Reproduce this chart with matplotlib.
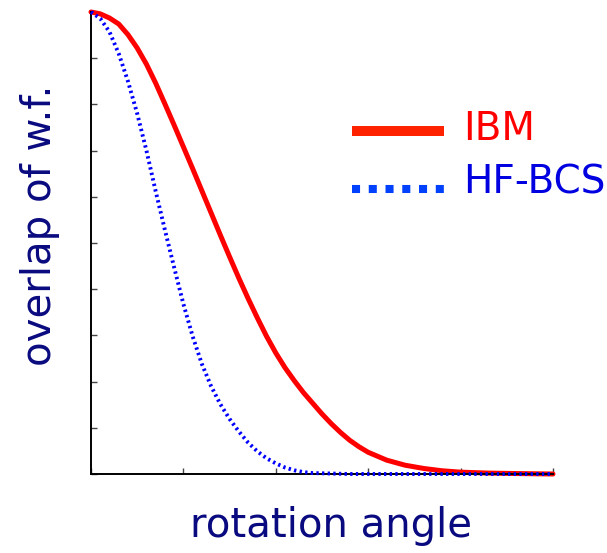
import matplotlib
matplotlib.use("Agg")
import matplotlib.pyplot as plt
from matplotlib.lines import Line2D

# overlap of wave functions vs rotation angle (arbitrary units)
ibm_angle = [0.0, 0.1, 0.2, 0.3, 0.4, 0.5, 0.6, 0.7, 0.8, 0.9,
             1.0, 1.1, 1.2, 1.3, 1.4, 1.5, 1.6, 1.7, 1.8, 1.9,
             2.0, 2.1, 2.2, 2.3, 2.4, 2.5, 2.6, 2.7, 2.8, 2.9,
             3.0, 3.2, 3.4, 3.6, 3.8, 4.0, 4.3, 4.6, 5.0]
ibm_overlap = [10.0, 9.96, 9.87, 9.74, 9.51, 9.22, 8.87, 8.46, 8.01, 7.55,
               7.08, 6.61, 6.13, 5.65, 5.17, 4.70, 4.24, 3.80, 3.38, 2.98,
               2.62, 2.30, 2.02, 1.76, 1.53, 1.30, 1.09, 0.90, 0.73, 0.59,
               0.47, 0.30, 0.19, 0.12, 0.07, 0.04, 0.02, 0.01, 0.0]

hfbcs_angle = [0.0, 0.1, 0.2, 0.3, 0.4, 0.5, 0.6, 0.7, 0.8, 0.9,
               1.0, 1.1, 1.2, 1.3, 1.4, 1.5, 1.6, 1.7, 1.8, 1.9,
               2.0, 2.1, 2.2, 2.3, 2.4, 2.6, 2.8, 3.5, 4.2, 5.0]
hfbcs_overlap = [10.0, 9.86, 9.57, 9.10, 8.50, 7.80, 7.00, 6.12, 5.28, 4.47,
                 3.68, 2.98, 2.38, 1.90, 1.51, 1.19, 0.92, 0.68, 0.49, 0.34,
                 0.23, 0.14, 0.08, 0.04, 0.02, 0.01, 0.0, 0.0, 0.0, 0.0]

series_labels = ["IBM", "HF-BCS"]
x_label = "rotation angle"
y_label = "overlap of w.f."

label_color = "#0a0a80"
W, H = 607, 553


def fx(px):
    return px / W


def fy(py):
    return 1 - py / H


fig = plt.figure(figsize=(W / 100, H / 100), dpi=100)
ax = fig.add_axes([fx(91), 79 / H, 462 / W, 462 / H])

ax.plot(hfbcs_angle, hfbcs_overlap, color="#0000ff", lw=2.8,
        linestyle=(0, (0.6, 0.85)), solid_capstyle="butt", clip_on=False, zorder=3)
ax.plot(ibm_angle, ibm_overlap, color="#ff0000", lw=3.6,
        solid_capstyle="round", solid_joinstyle="round", clip_on=False, zorder=2)

ax.set_xlim(0, 5)
ax.set_ylim(0, 10)
ax.set_xticks(range(0, 6))
ax.set_yticks(range(0, 11))
ax.set_xticklabels([])
ax.set_yticklabels([])
ax.tick_params(axis="both", direction="in", length=4.3, width=1, color="#444444")
for side in ("top", "right"):
    ax.spines[side].set_visible(False)
for side in ("left", "bottom"):
    ax.spines[side].set_linewidth(1.4)
    ax.spines[side].set_color("black")

fig.text(fx(40), fy(225), y_label, rotation=90, ha="center", va="center",
         fontsize=29, color=label_color)
fig.text(fx(331), fy(537), x_label, ha="center", va="baseline",
         fontsize=29, color=label_color)

# legend
fig.add_artist(Line2D([fx(352), fx(444)], [fy(131), fy(131)],
                      color="#ff2200", lw=7.2, solid_capstyle="butt"))
fig.add_artist(Line2D([fx(352), fx(444)], [fy(189), fy(189)],
                      color="#0040ff", lw=5.8, linestyle=(0, (1.0, 1.08)),
                      dash_capstyle="butt"))
fig.text(fx(463), fy(140), series_labels[0], ha="left", va="baseline",
         fontsize=28, color="#ff0000")
fig.text(fx(463), fy(194), series_labels[1], ha="left", va="baseline",
         fontsize=28, color="#0000e0")

fig.savefig("out.png", dpi=100)
